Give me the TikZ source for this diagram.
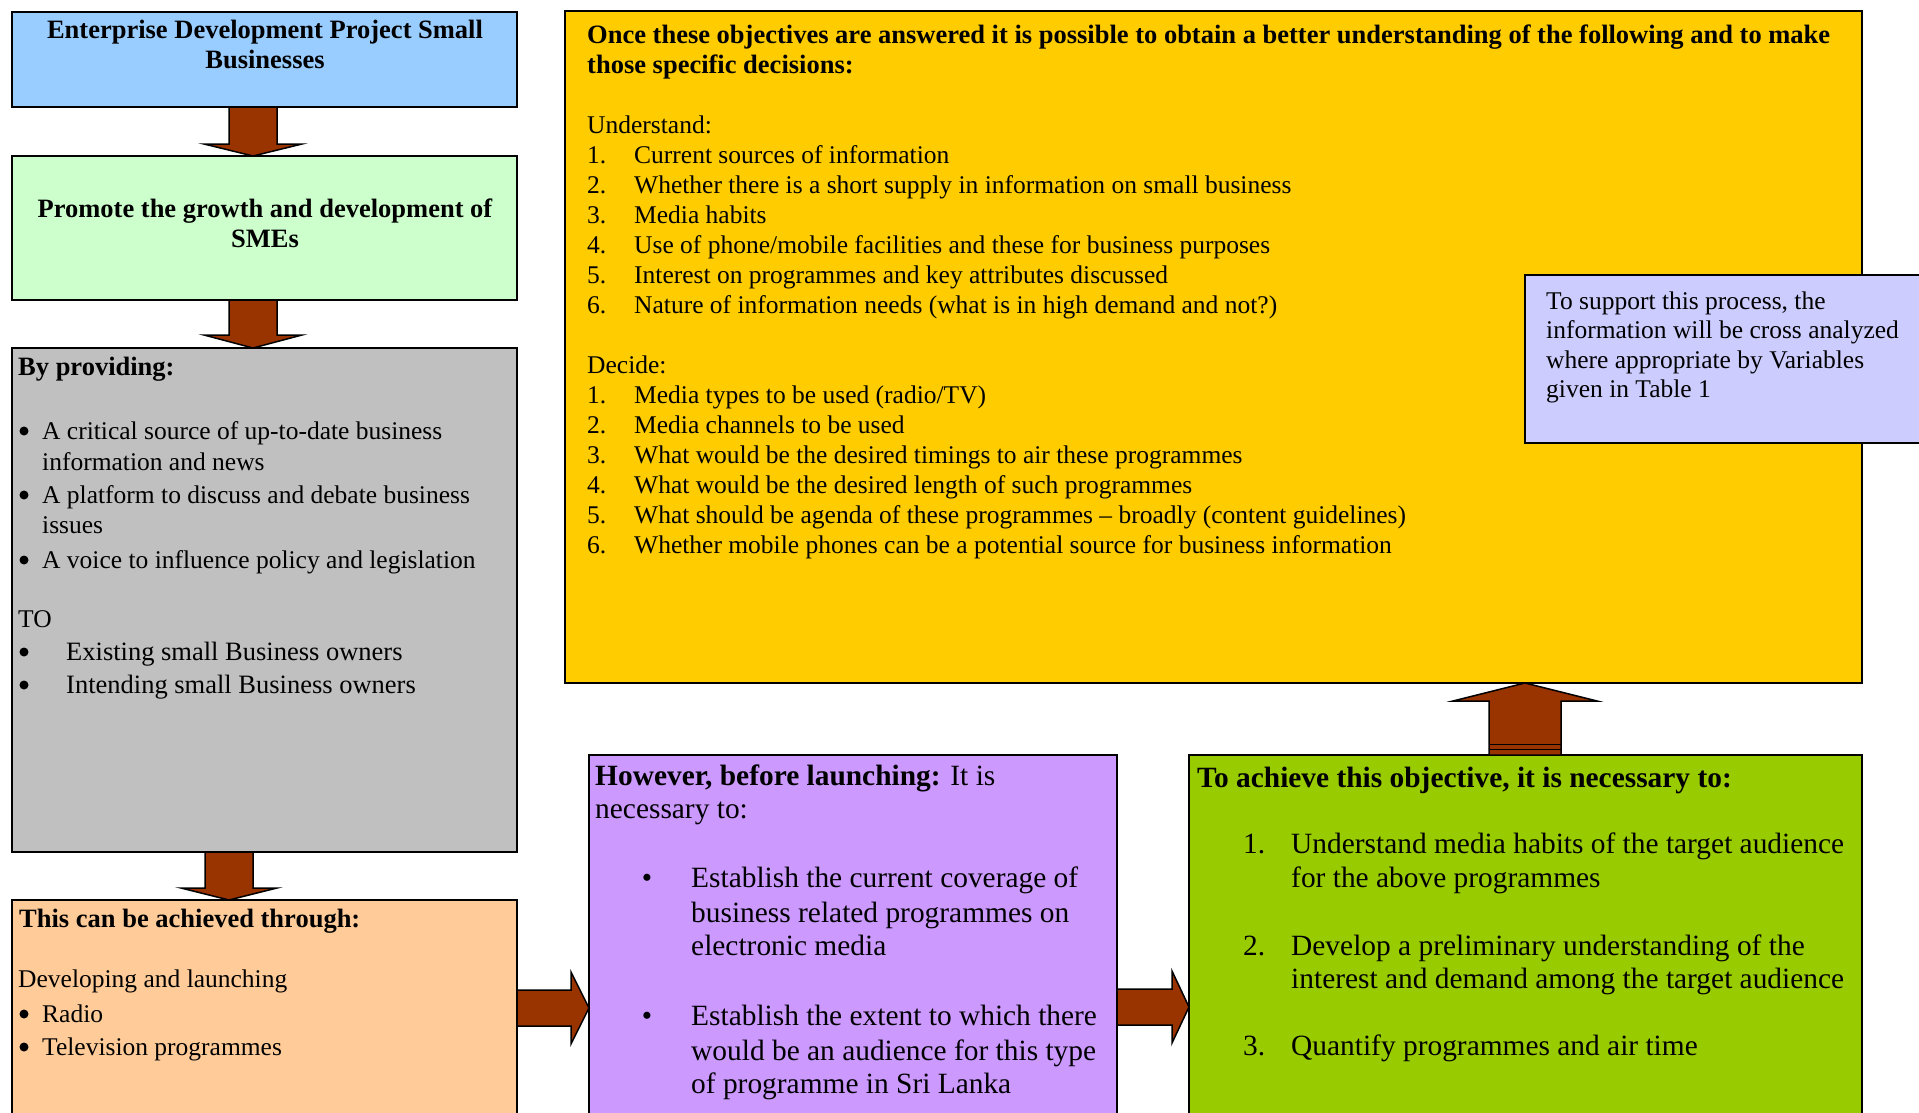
\documentclass[tikz,border=0pt]{standalone}
\usepackage{fontspec}
\setmainfont{Liberation Serif}
\usetikzlibrary{calc}
\definecolor{cblue}{HTML}{99CCFF}
\definecolor{cgreen}{HTML}{CCFFCC}
\definecolor{cgray}{HTML}{C0C0C0}
\definecolor{corange}{HTML}{FFCC99}
\definecolor{cyellow}{HTML}{FFCC00}
\definecolor{clav}{HTML}{CCCCFF}
\definecolor{cpurple}{HTML}{CC99FF}
\definecolor{clime}{HTML}{99CC00}
\definecolor{carrow}{HTML}{993300}
\newcommand\gfnt{\fontsize{25.5}{30}\selectfont}
\newcommand\gbfnt{\fontsize{26.5}{30}\selectfont\bfseries}
\newcommand\gbig{\fontsize{26.5}{30}\selectfont}
\newcommand\tfnt{\fontsize{29.4}{34}\selectfont}
\newcommand\varr[5]{%
 \draw[blockarrow] let \p1=#1, \p2=#2 in
 ({\x1-#3pt},{\y1}) -- ({\x1+#3pt},{\y1}) -- ({\x1+#3pt},{\y2+(#5pt)}) -- ({\x1+#4pt},{\y2+(#5pt)}) -- ({\x1},{\y2}) -- ({\x1-#4pt},{\y2+(#5pt)}) -- ({\x1-#3pt},{\y2+(#5pt)}) -- cycle;}
\newcommand\harr[5]{%
 \draw[blockarrow] let \p1=#1, \p2=#2 in
 ({\x1},{\y1-#3pt}) -- ({\x2-#5pt},{\y1-#3pt}) -- ({\x2-#5pt},{\y1-#4pt}) -- ({\x2},{\y1}) -- ({\x2-#5pt},{\y1+#4pt}) -- ({\x2-#5pt},{\y1+#3pt}) -- ({\x1},{\y1+#3pt}) -- cycle;}
\tikzset{
 box/.style={draw=black, line width=2pt, rectangle, outer sep=0pt, inner sep=0pt, anchor=north west},
 gt/.style={anchor=base west, inner sep=0pt, font=\gfnt},
 gb/.style={anchor=base west, inner sep=0pt, font=\gbfnt},
 gtc/.style={anchor=base, inner sep=0pt, font=\gbfnt},
 gg/.style={anchor=base west, inner sep=0pt, font=\gbig},
 tt/.style={anchor=base west, inner sep=0pt, font=\tfnt},
 tb/.style={anchor=base west, inner sep=0pt, font=\tfnt\bfseries},
 gdot/.style={circle, fill=black, inner sep=0pt, minimum size=9pt},
 tbul/.style={anchor=base, inner sep=0pt, font=\tfnt},
 blockarrow/.style={fill=carrow, draw=black, line width=1.5pt, line join=miter}
}
\begin{document}
\begin{tikzpicture}[x=1pt,y=-1pt]
\useasboundingbox (0,0) rectangle (1919,1112);
\clip (0,0) rectangle (1919,1112);
\fill[white] (0,0) rectangle (1919,1112);
% boxes
\node[box, fill=cblue, minimum width=505pt, minimum height=95pt] (blue) at (12,12) {};
\node[box, fill=cgreen, minimum width=505pt, minimum height=144pt] (green) at (12,156) {};
\node[box, fill=cgray, minimum width=505pt, minimum height=504pt] (gray) at (12,348) {};
\node[box, fill=corange, minimum width=505pt, minimum height=260pt] (orange) at (12,900) {};
\node[box, fill=cyellow, minimum width=1297pt, minimum height=672pt] (yellow) at (565,11) {};
\node[box, fill=clav, minimum width=420pt, minimum height=168pt] (lav) at (1525,275) {};
\node[box, fill=cpurple, minimum width=528pt, minimum height=400pt] (purple) at (589,755) {};
\node[box, fill=clime, minimum width=673pt, minimum height=400pt] (lime) at (1189,755) {};
% arrows
\varr{($(blue.south west)+(241,0)$)}{($(green.north west)+(241,0)$)}{24}{49}{12}
\varr{($(green.south west)+(241,0)$)}{($(gray.north west)+(241,0)$)}{24}{49}{13}
\varr{($(gray.south west)+(217,0)$)}{($(orange.north west)+(217,0)$)}{24}{48}{12}
\harr{($(orange.north east)+(0,108)$)}{(purple.west)}{18}{36}{18}
\harr{($(purple.north east)+(0,252)$)}{(lime.west)}{18}{36}{17}
\varr{($(lime.north west)+(336,0)$)}{($(yellow.south west)+(960,0)$)}{36}{72}{-18}
\draw[line width=1pt] ($(lime.north west)+(300,-11)$) -- ++(72,0);
\draw[line width=1pt] ($(lime.north west)+(300,-6)$) -- ++(72,0);
% blue
\node[gtc] (b1) at (265,38) {Enterprise Development Project Small};
\node[gtc] (b2) at (265,68) {Businesses};
% green
\node[gtc] (g1) at (265,217) {Promote the growth and development of};
\node[gtc] (g2) at (265,247) {SMEs};
% gray
\node[gb] (p0) at (18,375) {By providing:};
\node[gdot] (pb1) at (24,431) {};
\node[gt] (p1) at (42,439) {A critical source of up-to-date business};
\node[gt] (p2) at (42,470) {information and news};
\node[gdot] (pb2) at (24,495) {};
\node[gt] (p3) at (42,503) {A platform to discuss and debate business};
\node[gt] (p4) at (42,533) {issues};
\node[gdot] (pb3) at (24,560) {};
\node[gt] (p5) at (42,568) {A voice to influence policy and legislation};
\node[gt] (p6) at (18,627) {TO};
\node[gdot] (pb4) at (24,652) {};
\node[gg] (p7) at (66,660) {Existing small Business owners};
\node[gdot] (pb5) at (24,685) {};
\node[gg] (p8) at (66,693) {Intending small Business owners};
% orange
\node[gb] (o0) at (19,927) {This can be achieved through:};
\node[gt] (o1) at (18,987) {Developing and launching};
\node[gdot] (ob1) at (24,1014) {};
\node[gt] (o2) at (42,1022) {Radio};
\node[gdot] (ob2) at (24,1047) {};
\node[gt] (o3) at (42,1055) {Television programmes};
% yellow
\node[gb] (y0) at (587,43) {Once these objectives are answered it is possible to obtain a better understanding of the following and to make};
\node[gb] (y1) at (587,73) {those specific decisions:};
\node[gt] (yu) at (587,133) {Understand:};
\node[gt] (yn1) at (587,163) {1.}; \node[gt] (yt1) at (634,163) {Current sources of information};
\node[gt] (yn2) at (587,193) {2.}; \node[gt] (yt2) at (634,193) {Whether there is a short supply in information on small business};
\node[gt] (yn3) at (587,223) {3.}; \node[gt] (yt3) at (634,223) {Media habits};
\node[gt] (yn4) at (587,253) {4.}; \node[gt] (yt4) at (634,253) {Use of phone/mobile facilities and these for business purposes};
\node[gt] (yn5) at (587,283) {5.}; \node[gt] (yt5) at (634,283) {Interest on programmes and key attributes discussed};
\node[gt] (yn6) at (587,313) {6.}; \node[gt] (yt6) at (634,313) {Nature of information needs (what is in high demand and not?)};
\node[gt] (yd) at (587,373) {Decide:};
\node[gt] (dn1) at (587,403) {1.}; \node[gt] (dt1) at (634,403) {Media types to be used (radio/TV)};
\node[gt] (dn2) at (587,433) {2.}; \node[gt] (dt2) at (634,433) {Media channels to be used};
\node[gt] (dn3) at (587,463) {3.}; \node[gt] (dt3) at (634,463) {What would be the desired timings to air these programmes};
\node[gt] (dn4) at (587,493) {4.}; \node[gt] (dt4) at (634,493) {What would be the desired length of such programmes};
\node[gt] (dn5) at (587,523) {5.}; \node[gt] (dt5) at (634,523) {What should be agenda of these programmes – broadly (content guidelines)};
\node[gt] (dn6) at (587,553) {6.}; \node[gt] (dt6) at (634,553) {Whether mobile phones can be a potential source for business information};
% lavender
\node[gt] (v1) at (1546,309) {To support this process, the};
\node[gt] (v2) at (1546,338) {information will be cross analyzed};
\node[gt] (v3) at (1546,368) {where appropriate by Variables};
\node[gt] (v4) at (1546,397) {given in Table 1};
% purple
\node[tt] (h1) at (595,785) {\textbf{However, before launching:} It is};
\node[tt] (h2) at (595,818) {necessary to:};
\node[tbul] (hb1) at (647,887) {\textbullet};
\node[tt] (h3) at (691,887) {Establish the current coverage of};
\node[tt] (h4) at (691,922) {business related programmes on};
\node[tt] (h5) at (691,955) {electronic media};
\node[tbul] (hb2) at (647,1025) {\textbullet};
\node[tt] (h6) at (691,1025) {Establish the extent to which there};
\node[tt] (h7) at (691,1060) {would be an audience for this type};
\node[tt] (h8) at (691,1093) {of programme in Sri Lanka};
% lime
\node[tb] (l0) at (1197,787) {To achieve this objective, it is necessary to:};
\node[tt] (ln1) at (1243,853) {1.}; \node[tt] (lt1) at (1291,853) {Understand media habits of the target audience};
\node[tt] (lt2) at (1291,887) {for the above programmes};
\node[tt] (ln2) at (1243,955) {2.}; \node[tt] (lt3) at (1291,955) {Develop a preliminary understanding of the};
\node[tt] (lt4) at (1291,988) {interest and demand among the target audience};
\node[tt] (ln3) at (1243,1055) {3.}; \node[tt] (lt5) at (1291,1055) {Quantify programmes and air time};
\end{tikzpicture}
\end{document}
